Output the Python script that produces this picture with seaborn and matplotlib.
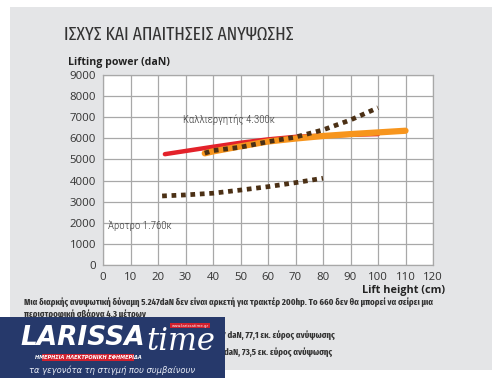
import matplotlib
matplotlib.use("Agg")
import matplotlib.pyplot as plt
from matplotlib.patches import Rectangle
import seaborn as sns

# --- data ---
red_x = [22.5, 30, 40, 50, 60, 70, 80, 90, 100]
red_y = [5250, 5400, 5600, 5790, 5950, 6070, 6130, 6170, 6200]

orange_x = [37, 40, 50, 60, 70, 80, 90, 100, 110]
orange_y = [5290, 5380, 5620, 5850, 5990, 6110, 6200, 6280, 6360]

cult_x = [37, 40, 50, 60, 70, 80, 90, 100]
cult_y = [5300, 5420, 5580, 5840, 6060, 6400, 6870, 7450]

plough_x = [21.5, 30, 40, 50, 60, 70, 80]
plough_y = [3270, 3320, 3400, 3550, 3710, 3900, 4110]

x_ticks = list(range(0, 130, 10))
y_ticks = list(range(0, 10000, 1000))

title = "ΙΣΧΥΣ ΚΑΙ ΑΠΑΙΤΗΣΕΙΣ ΑΝΥΨΩΣΗΣ"
y_label = "Lifting power (daN)"
x_label = "Lift height (cm)"
label_cult = "Καλλιεργητής 4.300κ"
label_plough = "Άροτρο 1.760κ"
note_1 = ("Μια διαρκής ανυψωτική δύναμη 5.247daN δεν είναι αρκετή για τρακτέρ 200hp. "
          "Το 660 δεν θα μπορεί να σείρει μια")
note_2 = "περιστροφική σβάρνα 4.3 μέτρων"
note_3 = "7 daN, 77,1 εκ. εύρος ανύψωσης"
note_4 = "daN, 73,5 εκ. εύρος ανύψωσης"

sns.set_style("white")
cond = ["Roboto Condensed", "DejaVu Sans"]
xcond = ["Fira Sans Extra Condensed", "Roboto Condensed", "DejaVu Sans"]
plt.rcParams["font.family"] = ["Open Sans", "DejaVu Sans"]

fig = plt.figure(figsize=(5, 3.78), dpi=100)
fig.patch.set_facecolor("white")
fig.add_artist(Rectangle((10 / 500, 8 / 378), 482 / 500, 363 / 378,
                         transform=fig.transFigure, facecolor="#e4e5e7",
                         edgecolor="none", zorder=0))

ax = fig.add_axes([103 / 500, 1 - 265 / 378, 330 / 500, 190 / 378])
ax.set_facecolor("white")

dots = (0, (1, 1))
sns.lineplot(x=red_x, y=red_y, ax=ax, color="#e3222a", lw=3.2,
             solid_capstyle="round", zorder=3)
sns.lineplot(x=orange_x, y=orange_y, ax=ax, color="#f7951d", lw=4.5,
             solid_capstyle="round", zorder=4)
sns.lineplot(x=cult_x, y=cult_y, ax=ax, color="#4b3015", lw=3.4,
             linestyle=dots, dash_capstyle="butt", zorder=5)
sns.lineplot(x=plough_x, y=plough_y, ax=ax, color="#4b3015", lw=3.4,
             linestyle=dots, dash_capstyle="butt", zorder=5)

ax.set_xlim(0, 120)
ax.set_ylim(0, 9000)
ax.set_xticks(x_ticks)
ax.set_yticks(y_ticks)
ax.grid(True, color="#a8a8a8", lw=0.9)
for s in ax.spines.values():
    s.set_color("#a8a8a8")
    s.set_linewidth(0.9)
ax.tick_params(axis="both", labelsize=8.2, labelcolor="#333333", length=3,
               width=0.8, pad=2, color="#a8a8a8")
ax.set_xlabel("")
ax.set_ylabel("")

ax.text(29, 6900, label_cult, fontsize=7.8, color="#333333", family=cond,
        fontweight="light", va="center")
ax.text(1.8, 1850, label_plough, fontsize=7.8, color="#333333", family=cond,
        fontweight="light", va="center")

fig.text(64 / 500, 1 - 35 / 378, title, fontsize=13.6, color="#333333",
         family=xcond, va="center")
fig.text(68 / 500, 1 - 63 / 378, y_label, fontsize=7.6, fontweight="bold",
         color="#222222", va="center")
fig.text(445 / 500, 1 - 291 / 378, x_label, fontsize=7.8, fontweight="bold",
         color="#222222", ha="right", va="center")

for txt, x0, y0 in [(note_1, 24, 302.5), (note_2, 24, 314),
                    (note_3, 222, 335), (note_4, 224, 352)]:
    fig.text(x0 / 500, 1 - y0 / 378, txt, fontsize=6.8, fontweight="bold",
             color="#333333", family=xcond, va="center")

# logo block in the lower left corner
fig.add_artist(Rectangle((0, 0), 225 / 500, 61 / 378, transform=fig.transFigure,
                         facecolor="#26396b", edgecolor="none", zorder=10))
fig.text(20 / 500, 1 - 338 / 378, "LARISSA", fontsize=19, fontweight="bold",
         style="italic", color="white", zorder=11, family="DejaVu Sans",
         va="center")
fig.text(146 / 500, 1 - 342 / 378, "time", fontsize=22, style="italic",
         color="white", zorder=11, family="DejaVu Serif", va="center")
fig.add_artist(Rectangle((42 / 500, 1 - 361 / 378), 92 / 500, 7 / 378,
                         transform=fig.transFigure, facecolor="#d0202e",
                         edgecolor="none", zorder=11))
fig.text(88 / 500, 1 - 357.5 / 378, "ΗΜΕΡΗΣΙΑ ΗΛΕΚΤΡΟΝΙΚΗ ΕΦΗΜΕΡΙΔΑ",
         fontsize=3.6, fontweight="bold", style="italic", color="white",
         ha="center", va="center", zorder=12, family="DejaVu Sans")
fig.add_artist(Rectangle((170 / 500, 1 - 328 / 378), 40 / 500, 5 / 378,
                         transform=fig.transFigure, facecolor="#d0202e",
                         edgecolor="none", zorder=11))
fig.text(190 / 500, 1 - 325.5 / 378, "www.larissatime.gr", fontsize=2.8,
         color="white", ha="center", va="center", zorder=12,
         family="DejaVu Sans")
fig.text(112 / 500, 1 - 370 / 378, "τα γεγονότα τη στιγμή που συμβαίνουν",
         fontsize=6, style="italic", color="#e8ecf5", ha="center",
         va="center", zorder=12, family="DejaVu Sans")

fig.savefig("out.png", dpi=100)
